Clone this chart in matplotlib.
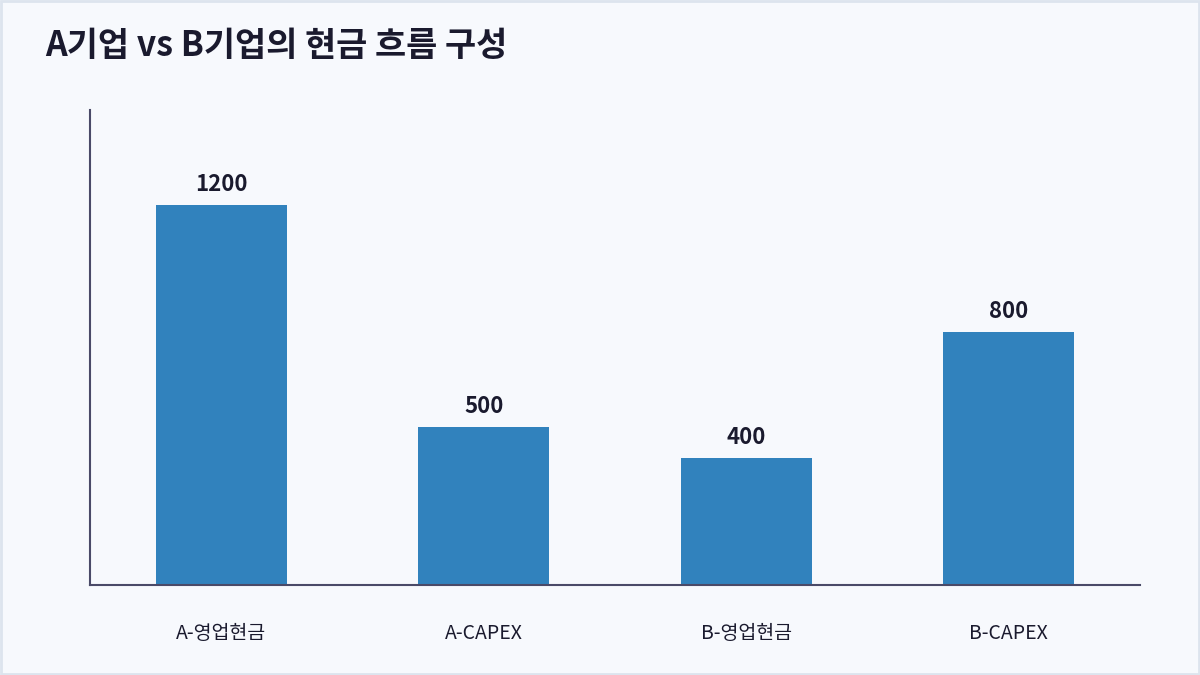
import matplotlib.pyplot as plt
from matplotlib.patches import Rectangle

plt.rcParams['font.family'] = ['Noto Sans CJK KR', 'DejaVu Sans']

# --- data ---
categories = ["A-영업현금", "A-CAPEX", "B-영업현금", "B-CAPEX"]
values = [1200, 500, 400, 800]
title = "A기업 vs B기업의 현금 흐름 구성"

BG = "#f7f9fd"
BAR = "#3182bd"
AXIS = "#4a4a68"
TEXT = "#1a1a2e"

fig = plt.figure(figsize=(12, 6.75), dpi=100, facecolor=BG)
fig.patches.append(Rectangle((0.001, 0.002), 0.998, 0.996, transform=fig.transFigure,
                             fill=False, edgecolor="#dde4ee", linewidth=2))

ax = fig.add_axes([0.075, 0.1333, 0.875, 0.7037])
ax.set_facecolor(BG)

x = range(len(categories))
ax.bar(x, values, width=0.5, color=BAR, zorder=2)

for xi, v in zip(x, values):
    ax.annotate(f"{v}", (xi, v), xytext=(0, 6.5), textcoords="offset points",
                ha="center", va="bottom", fontsize=16, fontweight="bold", color=TEXT)

ax.set_xlim(-0.5, 3.5)
ax.set_ylim(0, 1500)
ax.set_xticks(list(x))
ax.set_xticklabels(categories, fontsize=14, fontweight="medium", color=TEXT)
ax.tick_params(axis="x", length=0, pad=27)
ax.set_yticks([])

for s in ["top", "right"]:
    ax.spines[s].set_visible(False)
for s in ["left", "bottom"]:
    ax.spines[s].set_color(AXIS)
    ax.spines[s].set_linewidth(1.5)

fig.text(0.0375, 0.933, title, fontsize=24.4, fontweight="bold", color=TEXT,
         ha="left", va="center")

fig.savefig("out.png", dpi=100, facecolor=BG)
